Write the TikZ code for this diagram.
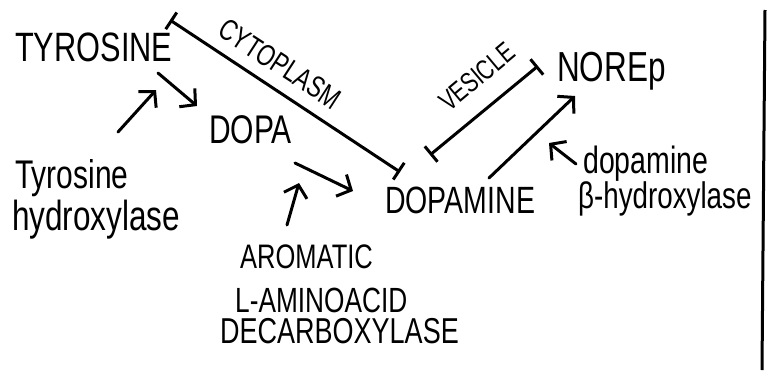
\documentclass[tikz,border=0pt]{standalone}
\usepackage{fontspec}
\setmainfont{Liberation Sans}[FakeStretch=0.75]
\usetikzlibrary{arrows.meta}
\begin{document}
\begin{tikzpicture}[x=1pt,y=-1pt,
  pen/.style={line width=3pt, line cap=round, line join=round},
  react/.style={pen, -{Straight Barb[length=11pt,width=24pt,line width=3pt]}},
  barred/.style={pen, {Bar[width=20pt,line width=3pt]}-{Bar[width=20pt,line width=3pt]}},
  lbl/.style={inner sep=0pt, anchor=base west},
  fs/.style={font=\fontsize{#1}{#1}\selectfont}]
\useasboundingbox (0,0) rectangle (769,370);
\fill[white] (0,0) rectangle (769,370);

% metabolites
\node[lbl, fs=41] (tyr)  at (15,61)  {TYROSINE};
\node[lbl, fs=40] (dopa) at (209,143) {DOPA};
\node[lbl, fs=38] (da)   at (385,213) {DOPAMINE};
\node[lbl, fs=42] (ne)   at (557,81)  {NOREp};

% enzymes
\node[lbl, fs=40] (th1) at (15,188)  {Tyrosine};
\node[lbl, fs=42] (th2) at (12,230)  {hydroxylase};
\node[lbl, fs=34] (aa1) at (240,268) {AROMATIC};
\node[lbl, fs=35] (aa2) at (235,312) {L-AMINOACID};
\node[lbl, fs=36] (aa3) at (220,343) {DECARBOXYLASE};
\node[lbl, fs=38] (db1) at (583,173) {dopamine};
\node[lbl, fs=37] (db2) at (578,208) {β-hydroxylase};

% compartment labels
\node[inner sep=0pt, fs=30, rotate=-33] (cyto) at (280,64) {CYTOPLASM};
\node[inner sep=0pt, fs=28, rotate=40]  (ves)  at (477,77) {VESICLE};

% arrow end points
\coordinate (tyrout) at (158,73);
\coordinate (dopain) at (197,106);
\coordinate (dopaout) at (295,163);
\coordinate (dain) at (353,191);
\coordinate (daout) at (489,178);
\coordinate (nein) at (575,96);
\coordinate (cytoA) at (170,20);
\coordinate (cytoB) at (400,172);
\coordinate (vesA) at (430,155);
\coordinate (vesB) at (538,66);
\coordinate (thtip) at (156,90);
\coordinate (thtail) at (118,132);
\coordinate (aatip) at (299,183);
\coordinate (aatail) at (287,225);
\coordinate (dbtip) at (549,143);
\coordinate (dbtail) at (576,164);

% reactions
\draw[react] (tyrout) -- (dopain);
\draw[react] (dopaout) -- (dain);
\draw[react] (daout) -- (nein);

% enzyme pointers
\draw[react] (thtail) -- (thtip);
\draw[react] (aatail) -- (aatip);
\draw[react] (dbtail) -- (dbtip);

% compartments
\draw[barred] (cytoA) -- (cytoB);
\draw[barred] (vesA) -- (vesB);

% right-hand frame edge
\draw[line width=3pt] (765,10) -- (762,370);
\end{tikzpicture}
\end{document}
